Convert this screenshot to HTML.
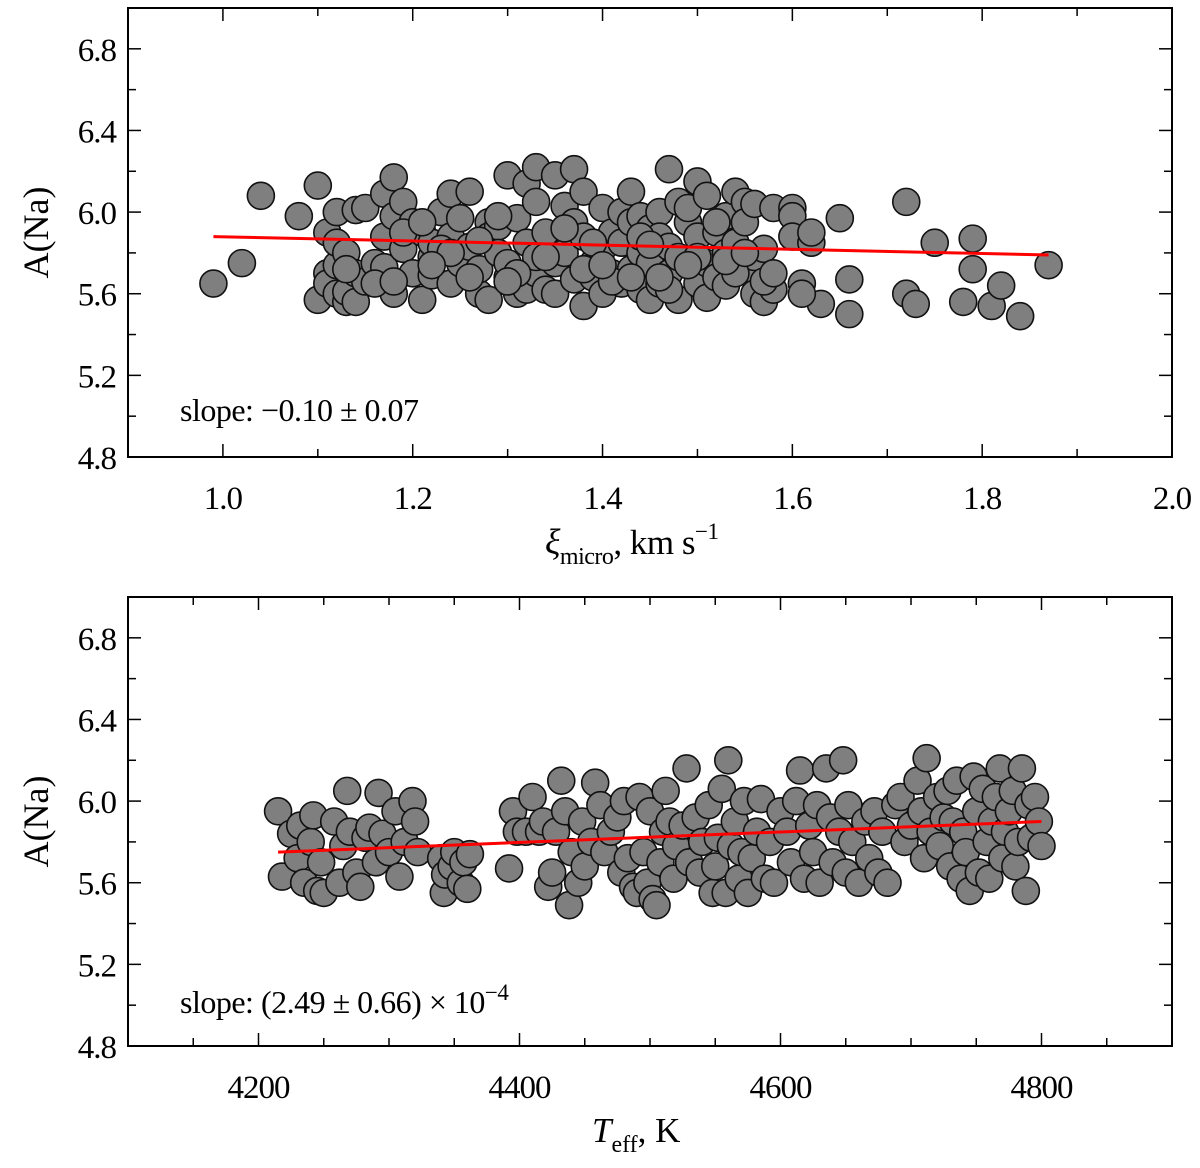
<!DOCTYPE html>
<html><head><meta charset="utf-8"><style>
html,body{margin:0;padding:0;background:#fff;}
svg{display:block;font-family:"Liberation Serif",serif;}
</style></head><body>
<svg id="chart" width="1200" height="1168" viewBox="0 0 1200 1168" xmlns="http://www.w3.org/2000/svg"></svg>
<script>
// ---- top panel data (xi_micro vs A(Na)) ----
const topX = [0.99,1.02,1.04,1.08,1.10,1.10,1.65,1.66,1.66,1.63,1.72,1.72,1.73,1.75,1.78,1.79,1.79,1.81,1.82,1.84,1.87,
1.11,1.11,1.11,1.12,1.12,1.12,1.12,1.13,1.13,1.13,1.14,1.14,1.14,1.15,1.15,1.16,1.17,1.17,1.17,1.18,1.18,1.18,1.19,1.19,1.20,1.20,1.21,1.21,1.22,1.22,1.22,1.23,1.24,1.24,1.24,1.25,1.25,1.26,1.26,1.27,1.27,1.28,1.28,1.28,1.29,1.29,1.30,1.30,1.30,1.31,1.31,1.32,1.32,1.32,1.33,1.33,1.33,1.34,1.34,1.35,1.35,1.35,1.36,1.36,1.37,1.37,1.37,1.38,1.38,1.38,1.39,1.39,1.40,1.40,1.40,1.41,1.41,1.42,1.42,1.42,1.43,1.43,1.43,1.44,1.44,1.44,1.45,1.45,1.45,1.46,1.46,1.46,1.47,1.47,1.47,1.48,1.48,1.48,1.49,1.49,1.50,1.50,1.50,1.51,1.51,1.51,1.52,1.52,1.53,1.53,1.53,1.54,1.54,1.55,1.55,1.55,1.56,1.56,1.56,1.57,1.57,1.58,1.58,1.60,1.60,1.60,1.61,1.61,1.62,1.62,
1.16,1.19,1.23,1.26,1.29,1.33,1.36,1.39,1.41,1.44,1.47,1.50,1.52,1.54,1.57,1.21,1.31,1.46,
1.13,1.18,1.24,1.27,1.34,1.38,1.43,1.49,1.53,1.58,1.22,1.30,1.40,1.45,1.55];
const topY = [5.65,5.75,6.08,5.98,6.13,5.57,5.97,5.67,5.50,5.55,6.05,5.60,5.55,5.85,5.56,5.87,5.72,5.54,5.64,5.49,5.74,
5.90,5.70,5.65,5.74,6.00,5.85,5.60,5.56,5.61,5.80,6.01,5.56,5.70,5.66,6.02,5.75,5.88,6.09,5.73,6.17,5.60,5.98,5.82,6.05,5.70,5.95,5.57,5.90,5.78,5.85,5.69,6.00,6.09,5.65,5.88,5.97,5.75,6.10,5.83,5.60,5.72,5.95,5.88,5.57,5.93,5.80,5.68,6.18,5.75,5.60,5.97,5.62,5.85,6.14,6.22,5.70,6.05,5.62,5.90,5.75,6.18,5.60,6.03,5.80,6.21,5.67,5.95,5.54,5.88,6.10,5.75,5.68,5.82,5.60,6.02,5.90,5.70,5.65,6.00,5.85,5.72,6.10,5.95,5.80,5.62,5.98,5.57,5.92,5.75,5.65,6.00,5.88,6.21,5.70,5.83,5.57,6.05,5.78,5.95,6.02,5.65,6.15,5.88,5.58,5.75,6.08,5.90,5.68,5.98,5.80,5.64,6.10,5.85,5.72,6.05,5.95,5.78,6.04,5.60,5.56,5.82,6.02,5.62,6.02,5.98,5.88,5.65,5.60,5.85,5.90,
5.65,5.90,5.82,5.68,5.98,5.78,5.92,5.85,5.66,5.88,5.62,5.78,5.95,5.70,5.66,5.95,5.70,5.68,
5.72,5.66,5.80,5.86,5.78,5.72,5.68,5.74,5.76,5.70,5.74,5.66,5.74,5.84,5.80];
const topFitX = [0.99,1.87];
const topFitY = [5.88,5.79];
const topXTicks = ["1.0","1.2","1.4","1.6","1.8","2.0"];
const yTickLabels = ["4.8","5.2","5.6","6.0","6.4","6.8"];

// ---- bottom panel data (Teff vs A(Na)) ----
const botX = [4215,4218,4225,4230,4232,4235,4240,4242,4245,4248,4250,4258,4262,4265,4268,4270,4275,4278,4282,4285,4290,4292,4295,4300,4305,4308,4312,4318,4320,4322,
4340,4342,4343,4348,4350,4355,4357,4360,4362,
4392,4395,4398,4405,4410,4415,4418,4422,4425,4428,4432,4435,4438,4440,4445,4448,4450,4455,4458,4462,4465,4470,4475,4478,4480,4483,4487,4490,4492,4495,4498,4500,4502,4505,4508,4510,4512,4515,4518,4520,4525,4528,4530,4535,4538,4540,4545,4548,4550,4552,4555,4558,4560,4562,4565,4568,4570,4572,4575,4578,4582,4585,4588,4592,4595,4600,4605,4608,4612,4615,4618,4622,4625,4628,4630,4635,4638,4640,4645,4648,4650,4652,4655,4660,4665,4668,4672,4675,4678,4682,4688,4692,4695,4700,4705,4708,4710,4712,4715,4720,4722,4725,4728,4730,4732,4735,4738,4740,4742,4745,4748,4750,4752,4755,4758,4760,4762,4765,4768,4770,4772,4775,4778,4780,4782,4785,4788,4790,4792,4795,4798,4800];
const botY = [5.95,5.63,5.84,5.72,5.88,5.60,5.80,5.93,5.56,5.70,5.55,5.90,5.60,5.78,6.05,5.85,5.65,5.58,5.82,5.87,5.70,6.04,5.84,5.75,5.95,5.63,5.80,6.00,5.90,5.75,
5.72,5.55,5.64,5.68,5.75,5.60,5.70,5.57,5.74,
5.67,5.95,5.85,5.85,6.02,5.85,5.90,5.58,5.65,5.85,6.10,5.95,5.49,5.75,5.60,5.90,5.68,5.80,6.09,5.98,5.75,5.85,5.92,5.65,6.00,5.72,5.58,5.55,6.02,5.75,5.60,5.95,5.52,5.49,5.70,5.85,6.05,5.90,5.62,5.78,5.88,6.16,5.70,5.92,5.65,5.80,5.98,5.55,5.68,5.82,6.06,5.55,6.20,5.78,5.90,5.62,5.75,6.00,5.55,5.72,5.85,6.01,5.62,5.80,5.60,5.95,5.85,5.70,6.00,6.15,5.62,5.88,5.75,5.98,5.60,6.16,5.92,5.70,5.85,6.20,5.65,5.98,5.80,5.60,5.90,5.72,5.95,5.65,5.85,5.60,5.98,6.02,5.80,5.88,6.10,5.95,5.72,6.21,5.85,6.02,5.78,5.92,6.05,5.68,5.90,6.10,5.62,5.85,5.75,5.56,6.12,5.95,5.65,6.06,5.80,5.62,5.90,6.02,6.16,5.72,5.85,5.95,6.05,5.68,5.80,6.16,5.56,5.98,5.82,6.02,5.90,5.78];
const botFitX = [4215,4800];
const botFitY = [5.75,5.90];
const botXTicks = ["4200","4400","4600","4800"];

const NS = "http://www.w3.org/2000/svg";
const svg = document.getElementById("chart");
function mk(tag, attrs, parent){const e=document.createElementNS(NS,tag);for(const k in attrs)e.setAttribute(k,attrs[k]);(parent||svg).appendChild(e);return e;}

function panel(opt){
  const L=128,R=1172,T=opt.top,B=opt.top+449;
  const xs=v=>L+(v-opt.x0)/(opt.x1-opt.x0)*(R-L);
  const ys=v=>B-(v-4.8)/(7.0-4.8)*(B-T);
  const g=mk("g",{});
  
  
  const pg=mk("g",{},g);
  
  
  for(let i=0;i<opt.px.length;i++){
    const c=mk("circle",{cx:xs(opt.px[i]),cy:ys(opt.py[i]),r:13.5,fill:"#7f7f7f",stroke:"#111","stroke-width":1.6},pg);
    
    
  }
  const fl=mk("line",{x1:xs(opt.fx[0]),y1:ys(opt.fy[0]),x2:xs(opt.fx[1]),y2:ys(opt.fy[1]),stroke:"#f00","stroke-width":3},g);
  
  
  const fr=mk("rect",{x:L,y:T,width:R-L,height:B-T,fill:"none",stroke:"#000","stroke-width":2},g);
  
  
  for(let k=0;k<=11;k++){
    const v=4.8+k*0.2, y=ys(v), len=(k%2===0)?13:8;
    mk("line",{x1:L,y1:y,x2:L+len,y2:y,stroke:"#000","stroke-width":1.5},g);
    mk("line",{x1:R,y1:y,x2:R-len,y2:y,stroke:"#000","stroke-width":1.5},g);
  }
  yTickLabels.forEach(t=>{
    const tl=mk("text",{x:L-12,y:ys(parseFloat(t))+12,"text-anchor":"end","font-size":33,"letter-spacing":"-1"},g);
    tl.textContent=t;
    
    
  });
  for(let v=opt.x0; v<=opt.x1+1e-9; v+=opt.minor){
    const x=xs(v);
    const isMajor=Math.abs(Math.round(v/opt.major)*opt.major-v)<1e-6;
    const len=isMajor?13:8;
    mk("line",{x1:x,y1:B,x2:x,y2:B-len,stroke:"#000","stroke-width":1.5},g);
    mk("line",{x1:x,y1:T,x2:x,y2:T+len,stroke:"#000","stroke-width":1.5},g);
  }
  opt.xticks.forEach(t=>{
    const tl=mk("text",{x:xs(parseFloat(t)),y:B+52,"text-anchor":"middle","font-size":33,"letter-spacing":"-1"},g);
    tl.textContent=t;
    
    
  });
  const yt=mk("text",{x:0,y:0,"text-anchor":"middle","font-size":36,transform:`translate(48,${(T+B)/2}) rotate(-90)`},g);
  yt.textContent="A(Na)";
  
  
  return {g,L,R,T,B};
}

panel({name:"top-panel",top:8,x0:0.9,x1:2.0,minor:0.1,major:0.2,xticks:topXTicks,px:topX,py:topY,fx:topFitX,fy:topFitY});
panel({name:"bottom-panel",top:597,x0:4100,x1:4900,minor:50,major:200,xticks:botXTicks,px:botX,py:botY,fx:botFitX,fy:botFitY});

function txt(html,attrs,name){const t=mk("text",attrs);t.innerHTML=html;return t;}
txt('slope: \u22120.10 \u00b1 0.07',{x:180,y:421,"font-size":32,"letter-spacing":"-0.5"},'slope-annotation');
txt('slope: (2.49 \u00b1 0.66) \u00d7 10<tspan dy="-13" font-size="23">\u22124</tspan>',{x:180,y:1013,"font-size":32,"letter-spacing":"-0.5"},'slope-annotation-bottom');
txt('<tspan font-style="italic" font-size="36">\u03be</tspan><tspan dy="10" font-size="24">micro</tspan><tspan dy="-10">, km s</tspan><tspan dy="-15" font-size="23">\u22121</tspan>',{x:545,y:554,"font-size":35,"letter-spacing":"-0.5"},'x-axis-title');
txt('<tspan font-style="italic">T</tspan><tspan dy="10" font-size="24">eff</tspan><tspan dy="-10">, K</tspan>',{x:592,y:1142,"font-size":35},'x-axis-title-bottom');
</script>
</body></html>
